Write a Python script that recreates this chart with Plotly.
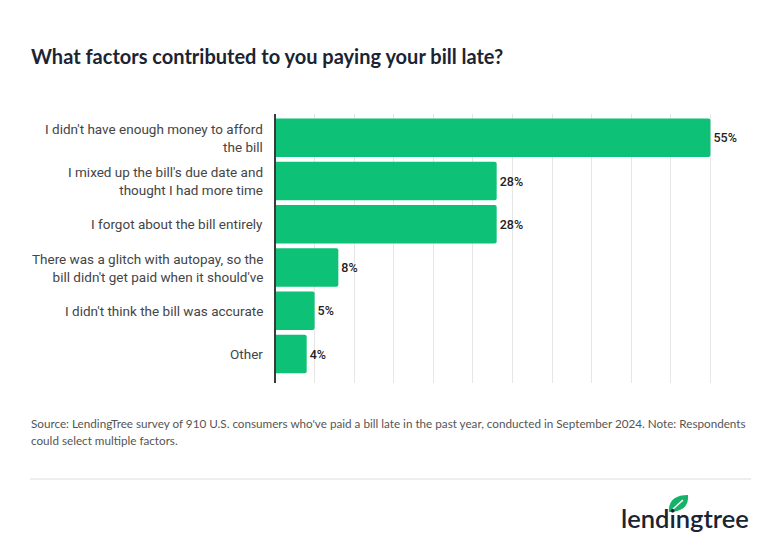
import plotly.graph_objects as go

categories = [
    "I didn't have enough money to afford<br>the bill",
    "I mixed up the bill's due date and<br>thought I had more time",
    "I forgot about the bill entirely",
    "There was a glitch with autopay, so the<br>bill didn't get paid when it should've",
    "I didn't think the bill was accurate",
    "Other",
]
values = [55, 28, 28, 8, 5, 4]
value_labels = ["55%", "28%", "28%", "8%", "5%", "4%"]

title_text = "What factors contributed to you paying your bill late?"
source_lines = [
    "Source: LendingTree survey of 910 U.S. consumers who've paid a bill late in the past year, "
    "conducted in September 2024. Note: Respondents",
    "could select multiple factors.",
]

OFF = 8  # page body margin
W, H = 780 - OFF, 549 - OFF
ML, MT = 275 - OFF, 114 - OFF
MR = W - (750 - OFF)
MB = H - (383 - OFF)
PW, PH = W - ML - MR, H - MT - MB


def px(x):
    return (x - OFF - ML) / PW


def py(y):
    return (H - MB - (y - OFF)) / PH


GREEN = "#0DC176"
ids = list(range(len(categories)))

fig = go.Figure()
fig.add_trace(go.Bar(
    x=values, y=ids, orientation="h",
    marker=dict(color=GREEN, line=dict(width=0), cornerradius=2),
    text=value_labels, textposition="outside", cliponaxis=False,
    textfont=dict(family="Roboto", size=12.5, color="#222222", weight=500),
    width=0.894, hoverinfo="skip",
))

annotations = []
for i, cat in enumerate(categories):
    annotations.append(dict(
        xref="paper", yref="y", x=0, y=i, text=cat, showarrow=False,
        xanchor="right", yanchor="middle", align="right", xshift=-10,
        font=dict(family="Roboto", size=13.5, color="#454545"),
    ))

annotations.append(dict(
    xref="paper", yref="paper", x=px(29), y=py(56), text="<b>" + title_text + "</b>",
    showarrow=False, xanchor="left", yanchor="middle",
    font=dict(family="Lato", size=20, color="#1b2433"),
))
for k, line in enumerate(source_lines):
    annotations.append(dict(
        xref="paper", yref="paper", x=px(29), y=py(422.5 + 17.7 * k), text=line,
        showarrow=False, xanchor="left", yanchor="middle", align="left",
        font=dict(family="Lato", size=11.7, color="#555555"),
    ))
annotations.append(dict(
    xref="paper", yref="paper", x=px(619), y=py(518), text="lendingtree",
    showarrow=False, xanchor="left", yanchor="middle",
    font=dict(family="Lato", size=25.5, color="#1b2433", weight=600),
))

shapes = [
    dict(type="line", xref="paper", yref="paper", x0=px(30), x1=px(751), y0=py(479), y1=py(479),
         line=dict(color="#dddddd", width=1)),
    dict(type="line", xref="paper", yref="paper", x0=0, x1=0, y0=0, y1=1,
         line=dict(color="#3a3a3a", width=2)),
]
# leaf
leaf = (f"M {px(669)},{py(512)} "
        f"C {px(668)},{py(500)} {px(676)},{py(495)} {px(688)},{py(495)} "
        f"C {px(689)},{py(507)} {px(681)},{py(512)} {px(669)},{py(512)} Z")
shapes.append(dict(type="path", xref="paper", yref="paper", path=leaf,
                   fillcolor="#17b26a", line=dict(width=0)))
shapes.append(dict(type="line", xref="paper", yref="paper", x0=px(673), y0=py(509),
                   x1=px(683), y1=py(500), line=dict(color="white", width=1.5)))

fig.update_layout(
    width=W, height=H, margin=dict(l=ML, r=MR, t=MT, b=MB),
    paper_bgcolor="white", plot_bgcolor="white",
    showlegend=False, annotations=annotations, shapes=shapes,
    xaxis=dict(range=[0, 60], dtick=5, showgrid=True, gridcolor="#e6e6e6", gridwidth=1,
               showticklabels=False, zeroline=False, showline=False, ticks=""),
    yaxis=dict(range=[5.67, -0.55], showticklabels=False, showgrid=False, zeroline=False,
               showline=False, ticks=""),
)

fig.write_html("out.html")
